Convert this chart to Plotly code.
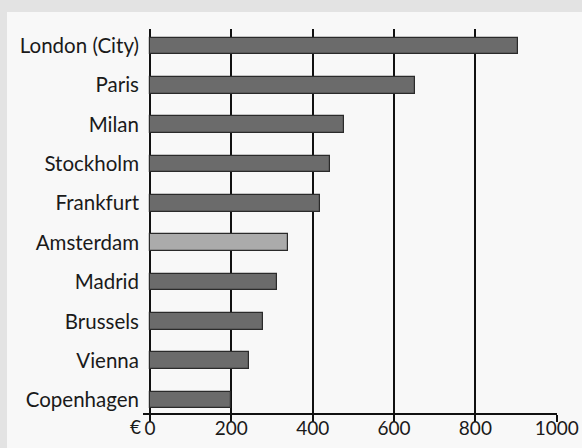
import plotly.graph_objects as go

cities = ["Copenhagen", "Vienna", "Brussels", "Madrid", "Amsterdam",
          "Frankfurt", "Stockholm", "Milan", "Paris", "London (City)"]
values = [200, 244, 277, 312, 340, 417, 443, 478, 651, 904]
highlight = "Amsterdam"
x_ticks = [0, 200, 400, 600, 800, 1000]
x_ticktext = ["0", "200", "400", "600", "800", "1000"]
currency = "€"

DARK = "#6b6b6b"
LIGHT = "#ababab"
colors = [LIGHT if c == highlight else DARK for c in cities]

fig = go.Figure()
fig.add_trace(go.Bar(
    x=values, y=cities, orientation="h",
    marker=dict(color=colors, line=dict(color="#2a2a2a", width=1.2)),
    width=0.42,
))

W, H = 582, 448
L, R, T, B = 143, 25, 29, 35
pw, ph = W - L - R, H - T - B

fig.update_layout(
    template="none",
    width=W, height=H,
    margin=dict(l=L, r=R, t=T, b=B, autoexpand=False),
    paper_bgcolor="#e3e3e3",
    plot_bgcolor="rgba(0,0,0,0)",
    showlegend=False,
    font=dict(family="Lato", size=20, color="#1a1a1a"),
    bargap=0,
)
# white panel
fig.add_shape(type="rect", xref="paper", yref="paper", layer="below",
              x0=(7 - L) / pw, x1=1 + (R + 5) / pw,
              y0=-(B + 5) / ph, y1=1 + (T - 12) / ph,
              fillcolor="#f8f8f8", line=dict(width=0))

fig.update_xaxes(
    automargin=False,
    range=[-17.2, 1000.7],
    tickvals=x_ticks, ticktext=x_ticktext,
    showgrid=True, gridcolor="#111111", gridwidth=2,
    zeroline=True, zerolinecolor="#111111", zerolinewidth=2,
    showline=True, linecolor="#111111", linewidth=2,
    ticks="outside", ticklen=7, tickwidth=2, tickcolor="#111111",
    ticklabelstandoff=-10,
    tickfont=dict(size=19, color="#1a1a1a"),
    fixedrange=True,
)
fig.update_yaxes(
    automargin=False,
    type="category", categoryorder="array", categoryarray=cities,
    range=[-0.33, 9.43],
    showgrid=False, zeroline=False, showline=False,
    ticks="", ticklabelstandoff=3,
    tickfont=dict(size=20.5, color="#1a1a1a"),
    fixedrange=True,
)
fig.add_annotation(x=0, y=0, xref="x", yref="paper", text=currency,
                   showarrow=False, xanchor="right", yanchor="middle",
                   xshift=-7, yshift=-13, font=dict(size=19, color="#1a1a1a"))

fig.write_html("out.html", config={"displayModeBar": False})
